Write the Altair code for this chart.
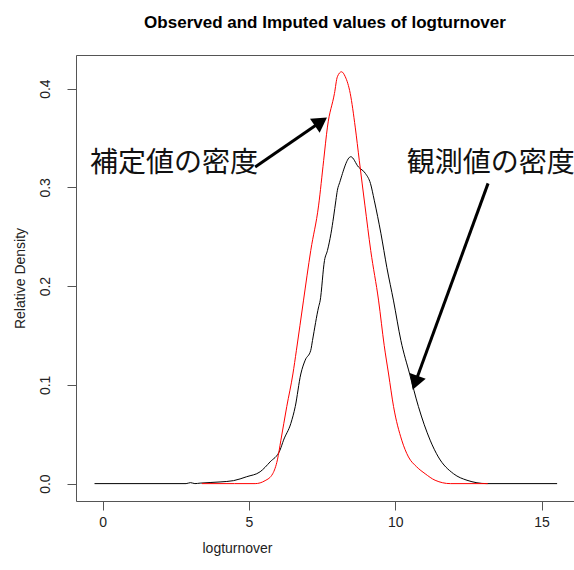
import altair as alt
import pandas as pd

# Observed density (black)
obs_x = [-0.28, 2.85, 3.0, 3.15, 3.33, 4.01, 4.47, 4.92, 5.38, 5.72, 6.06, 6.18, 6.43, 6.58,
         6.77, 6.92, 7.11, 7.17, 7.38, 7.43, 7.58, 7.68, 7.80, 7.89, 7.97, 8.02, 8.10, 8.48,
         8.74, 8.98, 9.15, 9.28, 9.51, 9.71, 9.94, 10.19, 10.49, 10.79, 11.19, 11.47, 11.99,
         12.45, 13.13, 15.53]
obs_y = [0.0, 0.0, 0.001, 0.0, 0.0005, 0.0017, 0.003, 0.007, 0.012, 0.022, 0.034, 0.044, 0.061, 0.078,
         0.111, 0.125, 0.135, 0.145, 0.179, 0.185, 0.226, 0.236, 0.253, 0.270, 0.287, 0.297, 0.305, 0.331,
         0.3206, 0.314, 0.304, 0.287, 0.253, 0.219, 0.185, 0.145, 0.111, 0.078, 0.044, 0.027, 0.010,
         0.0034, 0.0, 0.0]

# Imputed density (red)
imp_x = [3.39, 4.5, 5.21, 5.55, 5.81, 5.97, 6.09, 6.29, 6.50, 6.62, 6.86, 7.11, 7.38, 7.55, 7.68,
         7.92, 8.02, 8.16, 8.29, 8.46, 8.63, 8.77, 8.96, 9.16, 9.43, 9.62, 9.77, 9.94, 10.22,
         10.45, 10.73, 11.02, 11.36, 11.88, 13.16]
imp_y = [0.0, 0.0, 0.0, 0.003, 0.010, 0.024, 0.044, 0.078, 0.111, 0.135, 0.185, 0.236, 0.282, 0.327, 0.361,
         0.395, 0.412, 0.417, 0.412, 0.395, 0.361, 0.327, 0.282, 0.236, 0.185, 0.140, 0.111, 0.078, 0.044,
         0.027, 0.017, 0.010, 0.0034, 0.0, 0.0]

# Annotations
label_text = ["補定値の密度", "観測値の密度"]
label_x = [2.44, 13.26]
label_y = [0.3233, 0.3233]
tail_x = [5.21, 13.17]
tail_y = [0.3206, 0.304]
head_x = [7.457, 10.68]
head_y = [0.3665, 0.1021]
head_angle = [55.4, 200.0]

x_ticks = [0, 5, 10, 15]
y_ticks = [0.0, 0.1, 0.2, 0.3, 0.4]

obs = pd.DataFrame({"x": obs_x, "y": obs_y})
imp = pd.DataFrame({"x": imp_x, "y": imp_y})
lab = pd.DataFrame({"t": label_text, "x": label_x, "y": label_y})
arr = pd.DataFrame({"x": tail_x, "y": tail_y, "x2": head_x, "y2": head_y, "a": head_angle})

FONT = "Liberation Sans"
AX = "#555555"
xs = alt.Scale(domain=[-0.913, 16.107], nice=False, zero=False)
ys = alt.Scale(domain=[-0.0176, 0.4340], nice=False, zero=False)

x_axis = alt.Axis(values=x_ticks, grid=False, domain=True, domainColor=AX, tickColor=AX, tickSize=9,
                  labelFont=FONT, labelFontSize=14, labelColor="#222222", labelPadding=5,
                  title="logturnover", titleFont=FONT, titleFontSize=14, titleFontWeight="normal",
                  titleColor="#222222", titleX=161, titleY=47, titleBaseline="middle", titleAlign="center")
y_axis = alt.Axis(values=y_ticks, format=".1f", grid=False, domain=True, domainColor=AX, tickColor=AX,
                  tickSize=9, labelFont=FONT, labelFontSize=14, labelColor="#222222", labelAngle=270,
                  labelAlign="center", labelBaseline="alphabetic", labelPadding=18,
                  title="Relative Density", titleFont=FONT, titleFontSize=14, titleFontWeight="normal",
                  titleColor="#222222", titleAngle=270, titleX=-56, titleY=223,
                  titleBaseline="middle", titleAlign="center")
top_axis = alt.Axis(orient="top", labels=False, ticks=False, grid=False, domain=True,
                    domainColor=AX, title=None)

black = alt.Chart(obs).mark_line(color="black", strokeWidth=1, interpolate="monotone").encode(
    x=alt.X("x:Q", scale=xs, axis=x_axis),
    y=alt.Y("y:Q", scale=ys, axis=y_axis),
)
red = alt.Chart(imp).mark_line(color="#ff0000", strokeWidth=1, interpolate="monotone").encode(
    x=alt.X("x:Q", scale=xs, axis=top_axis),
    y=alt.Y("y:Q", scale=ys, axis=None),
)
shaft = alt.Chart(arr).mark_rule(color="black", strokeWidth=3).encode(
    x=alt.X("x:Q", scale=xs, axis=None), y=alt.Y("y:Q", scale=ys, axis=None),
    x2="x2:Q", y2="y2:Q",
)
head = alt.Chart(arr).mark_point(shape="triangle-up", filled=True, color="black", size=289, opacity=1).encode(
    x=alt.X("x2:Q", scale=xs, axis=None), y=alt.Y("y2:Q", scale=ys, axis=None),
    angle=alt.Angle("a:Q", scale=None),
)
texts = alt.Chart(lab).mark_text(font="Noto Sans CJK JP", fontSize=28, color="#111111",
                                 align="center", baseline="middle").encode(
    x=alt.X("x:Q", scale=xs, axis=None), y=alt.Y("y:Q", scale=ys, axis=None), text="t:N",
)

chart = alt.layer(black, red, shaft, head, texts).resolve_axis(
    x="independent", y="independent"
).properties(
    width=498, height=446,
    autosize=alt.AutoSizeParams(type="none"),
    padding={"left": 76, "top": 55, "right": 0, "bottom": 69},
    title=alt.TitleParams("Observed and Imputed values of logturnover", font=FONT, fontSize=17,
                          fontWeight="bold", color="black", anchor="middle", baseline="alphabetic",
                          offset=10),
).configure_view(stroke=None).configure(background="white")

chart.save("out.html", embed_options={"renderer": "svg", "actions": False})
